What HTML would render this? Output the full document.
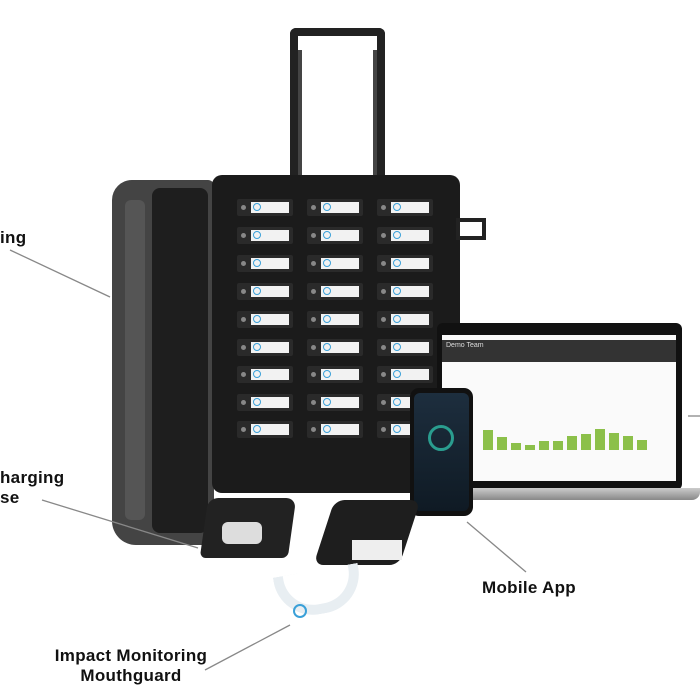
<!DOCTYPE html><html><head><style>
body{margin:0;width:700px;height:700px;background:#fff;position:relative;overflow:hidden;font-family:"Liberation Sans",sans-serif}
.a{position:absolute}
.lbl{position:absolute;font-weight:bold;font-size:17px;color:#111;line-height:20px;letter-spacing:0.3px}
.slot{position:absolute;width:56px;height:17px;background:#2a2a2a;border-radius:2px}
.slot i{position:absolute;left:14px;top:3px;width:38px;height:11px;background:#f2f2f2}
.slot b{position:absolute;left:16px;top:4px;width:8px;height:8px;border-radius:50%;border:1px solid #3aa0d8;box-sizing:border-box}
.slot u{position:absolute;left:4px;top:6px;width:5px;height:5px;border-radius:50%;background:#888}
</style></head><body>
<div class="a" style="left:290px;top:28px;width:95px;height:150px;border:8px solid #222;border-bottom:none;border-radius:6px 6px 0 0;box-sizing:border-box"></div>
<div class="a" style="left:298px;top:50px;width:4px;height:125px;background:#444"></div>
<div class="a" style="left:373px;top:50px;width:4px;height:125px;background:#444"></div>
<div class="a" style="left:112px;top:180px;width:102px;height:365px;background:#444;border-radius:20px 6px 6px 24px"></div>
<div class="a" style="left:125px;top:200px;width:20px;height:320px;background:#555;border-radius:6px"></div>
<div class="a" style="left:152px;top:188px;width:56px;height:345px;background:#1e1e1e;border-radius:8px"></div>
<div class="a" style="left:212px;top:175px;width:248px;height:318px;background:#1b1b1b;border-radius:10px"></div>
<div class="a" style="left:456px;top:218px;width:30px;height:22px;border:4px solid #222;box-sizing:border-box"></div>
<div id="slots"></div>
<script>
var xs=[237,307,377],ys=[199,227,255,283,311,339,366,394,421],h='';
ys.forEach(y=>xs.forEach(x=>{h+='<div class="slot" style="left:'+x+'px;top:'+y+'px"><u></u><i></i><b></b></div>'}));
document.getElementById('slots').innerHTML=h;
</script>
<div class="a" style="left:437px;top:323px;width:245px;height:167px;background:#111;border-radius:6px"></div>
<div class="a" style="left:442px;top:335px;width:234px;height:146px;background:#fafafa"></div>
<div class="a" style="left:442px;top:340px;width:234px;height:22px;background:#333"></div>
<div class="a" style="left:446px;top:342px;color:#ddd;font-size:7px">Demo Team</div>
<div class="a" style="left:420px;top:488px;width:280px;height:12px;background:linear-gradient(#ccc,#888);border-radius:0 0 8px 8px"></div>
<svg class="a" style="left:475px;top:425px" width="200" height="25">
<g fill="#8cc04a"><rect x="8" y="5" width="10" height="20"/><rect x="22" y="12" width="10" height="13"/><rect x="36" y="18" width="10" height="7"/><rect x="50" y="20" width="10" height="5"/><rect x="64" y="16" width="10" height="9"/><rect x="78" y="16" width="10" height="9"/><rect x="92" y="11" width="10" height="14"/><rect x="106" y="9" width="10" height="16"/><rect x="120" y="4" width="10" height="21"/><rect x="134" y="8" width="10" height="17"/><rect x="148" y="11" width="10" height="14"/><rect x="162" y="15" width="10" height="10"/></g></svg>
<div class="a" style="left:410px;top:388px;width:63px;height:128px;background:#111;border-radius:9px"></div>
<div class="a" style="left:414px;top:393px;width:55px;height:118px;background:linear-gradient(#1d2e3e,#0f1a24);border-radius:6px"></div>
<div class="a" style="left:428px;top:425px;width:26px;height:26px;border-radius:50%;border:3px solid #2a9d8f;box-sizing:border-box"></div>
<div class="a" style="left:204px;top:498px;width:88px;height:60px;background:#222;border-radius:10px 10px 6px 6px;transform:skewX(-8deg)"></div>
<div class="a" style="left:222px;top:522px;width:40px;height:22px;background:#ddd;border-radius:6px"></div>
<div class="a" style="left:324px;top:500px;width:86px;height:65px;background:#1e1e1e;border-radius:10px;transform:skewX(-18deg)"></div>
<div class="a" style="left:352px;top:540px;width:50px;height:20px;background:#eee"></div>
<div class="a" style="left:276px;top:570px;width:86px;height:44px;border:10px solid #e8eef2;border-top:none;border-radius:0 0 40px 40px;box-sizing:border-box;transform:rotate(-10deg)"></div>
<div class="a" style="left:293px;top:604px;width:10px;height:10px;border-radius:50%;border:2px solid #3aa0d8"></div>
<svg class="a" style="left:0;top:0" width="700" height="700"><g stroke="#888" stroke-width="1.3">
<line x1="10" y1="250" x2="110" y2="297"/><line x1="42" y1="500" x2="198" y2="548"/>
<line x1="467" y1="522" x2="526" y2="572"/><line x1="205" y1="670" x2="290" y2="625"/>
<line x1="688" y1="416" x2="700" y2="416"/></g></svg>
<div class="lbl" style="left:0;top:228px">ing</div>
<div class="lbl" style="left:0;top:468px">harging<br>se</div>
<div class="lbl" style="left:482px;top:578px">Mobile App</div>
<div class="lbl" style="left:40px;top:646px;text-align:center;width:182px">Impact Monitoring<br>Mouthguard</div>
</body></html>
